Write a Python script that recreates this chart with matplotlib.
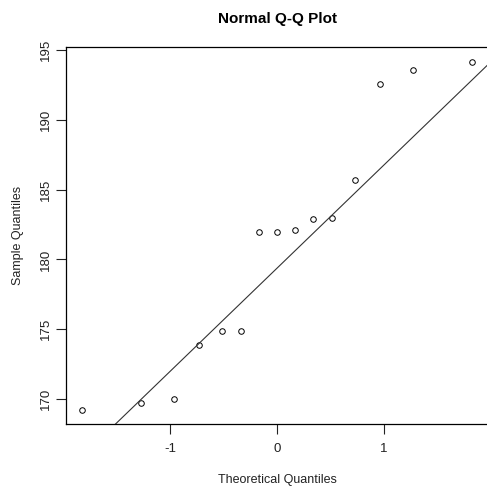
import numpy as np
import matplotlib
matplotlib.use("Agg")
import matplotlib.pyplot as plt

plt.rcParams['font.family'] = ['Liberation Sans', 'DejaVu Sans']
plt.rcParams['axes.unicode_minus'] = False

# theoretical normal quantiles (x) and sorted sample values (y)
theo = [-1.83, -1.28, -0.97, -0.73, -0.52, -0.34, -0.17, 0.0,
        0.17, 0.34, 0.52, 0.73, 0.97, 1.28, 1.83]
sample = [169.2, 169.7, 170.0, 173.9, 174.9, 174.9, 182.0, 182.0,
          182.1, 182.9, 183.0, 185.7, 192.6, 193.6, 194.2]
xticks = [-1, 0, 1]
yticks = [170, 175, 180, 185, 190, 195]

# qqline: line through the first and third quartiles
q1, q3 = np.percentile(sample, [25, 75])
zq = 0.6745
slope = (q3 - q1) / (2 * zq)
icept = q1 + slope * zq

fig = plt.figure(figsize=(4.87, 4.92), dpi=100)
ax = fig.add_axes([66 / 487, 1 - 424 / 492, 422 / 487, 377 / 492])

ax.plot(theo, sample, 'o', mfc='none', mec='black', ms=4, mew=0.7)
ax.axline((0, icept), slope=slope, color='#333333', lw=0.8)

ax.set_xlim(-1.98, 1.98)
ax.set_ylim(168.2, 195.24)
ax.set_xticks(xticks)
ax.set_yticks(yticks)
ax.set_yticklabels([str(v) for v in yticks], rotation=90, va='center')
ax.tick_params(length=7, width=0.8, labelsize=9.5, colors='#222222')
ax.tick_params(axis='x', pad=6.5)
ax.tick_params(axis='y', pad=3)
for s in ax.spines.values():
    s.set_linewidth(0.9)
ax.spines['right'].set_visible(False)

ax.set_title('Normal Q-Q Plot', fontsize=11, fontweight='bold', pad=17)
ax.set_xlabel('Theoretical Quantiles', fontsize=9, labelpad=14, color='#222222')
ax.set_ylabel('Sample Quantiles', fontsize=9, labelpad=11.5, color='#222222')

fig.savefig('out.png', dpi=100)
